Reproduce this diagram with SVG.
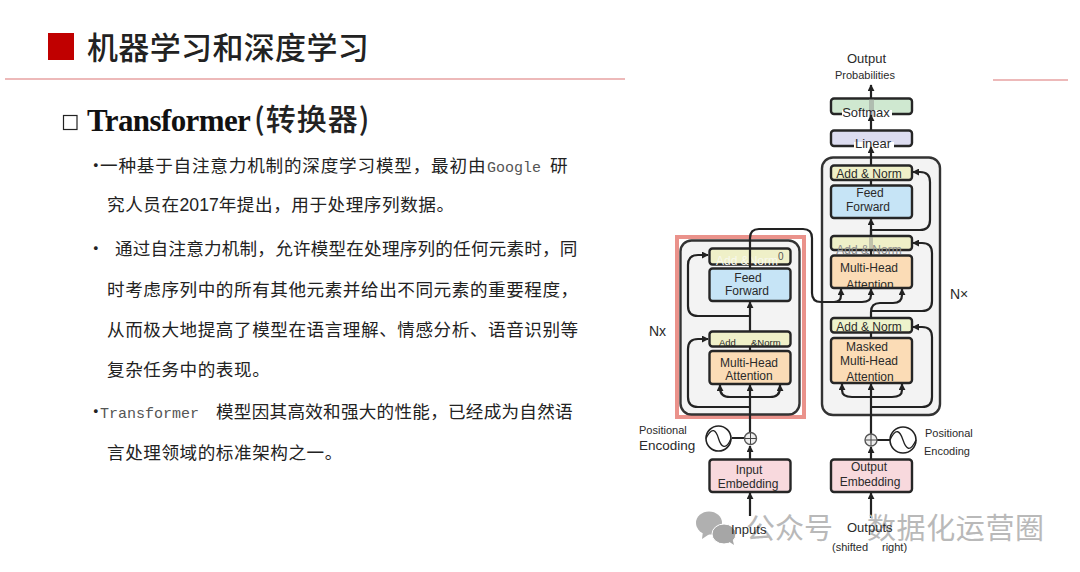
<svg xmlns="http://www.w3.org/2000/svg" width="1080" height="572" viewBox="0 0 1080 572">
<style>
.cjk{font-family:"Noto Sans CJK SC","Liberation Sans",sans-serif}
.body{font-family:"Noto Sans CJK SC","Liberation Sans",sans-serif;font-size:17.6px;fill:#222;letter-spacing:.55px}
.mono{font-family:"Liberation Mono","Noto Sans CJK SC",monospace;font-size:15px;fill:#555;letter-spacing:0}
.l{font-family:"Liberation Sans",Arial,sans-serif;font-size:12px;fill:#2a2a2a}
.m{text-anchor:middle}
.box{stroke:#262626;stroke-width:2.4}
.an{fill:#eff0c8}.ff{fill:#c6e4f6}.mh{fill:#fbdcb6}.em{fill:#f8d9dd}
.cont{fill:#f3f3f3;stroke:#333;stroke-width:2.4}
.c{fill:none;stroke:#222;stroke-width:2.2}
.a{marker-end:url(#arrow)}
.band{fill:#8a8a8a;opacity:.45}
.rule{stroke:#dc7474;stroke-width:1.2}
</style>
<defs>
<marker id="arrow" viewBox="0 0 8 8" refX="7" refY="4" markerWidth="7" markerHeight="7" markerUnits="userSpaceOnUse" orient="auto"><path d="M0 0L8 4L0 8Z" fill="#222"/></marker>
</defs>
<rect width="1080" height="572" fill="#fff"/>

<g id="header">
<rect x="48" y="33" width="26" height="27" fill="#c00000"/>
<text class="cjk" x="87" y="59" font-size="31" font-weight="500" fill="#222" letter-spacing=".35">机器学习和深度学习</text>
<path d="M5 79H625" class="rule"/>
<path d="M993 80H1068" class="rule"/>
</g>

<g id="content">
<rect x="63.500" y="115.500" width="13.500" height="14" fill="none" stroke="#222" stroke-width="1.200"/>
<text x="87" y="131" font-family="Liberation Serif,serif" font-weight="700" font-size="31" letter-spacing="-.6" fill="#111">Transformer</text>
<text class="cjk" x="254" y="130" font-size="30" font-weight="500" fill="#222" letter-spacing="1">(转换器)</text>
<text class="body" x="87" y="172"><tspan x="87">·</tspan><tspan x="100" letter-spacing=".8">一种基于自注意力机制的深度学习模型&#xFF0C;最初由</tspan><tspan class="mono" x="487">Google</tspan><tspan x="550">研</tspan></text>
<text class="body" x="107" y="211">究人员在<tspan font-family="Liberation Sans" letter-spacing="0">2017</tspan>年提出&#xFF0C;用于处理序列数据。</text>
<text class="body" x="87" y="255">·<tspan x="115" letter-spacing=".2">通过自注意力机制&#xFF0C;允许模型在处理序列的任何元素时&#xFF0C;同</tspan></text>
<text class="body" x="107" y="296">时考虑序列中的所有其他元素并给出不同元素的重要程度&#xFF0C;</text>
<text class="body" x="107" y="336">从而极大地提高了模型在语言理解、情感分析、语音识别等</text>
<text class="body" x="107" y="376">复杂任务中的表现。</text>
<text class="body" x="87" y="418">·<tspan class="mono" x="100">Transformer</tspan><tspan x="216" letter-spacing=".25">模型因其高效和强大的性能&#xFF0C;已经成为自然语</tspan></text>
<text class="body" x="107" y="459">言处理领域的标准架构之一。</text>
</g>

<g id="containers">
<rect x="677" y="237" width="127" height="180" fill="none" stroke="#ea928b" stroke-width="4"/>
<rect x="680.500" y="240.500" width="119" height="174" rx="11" class="cont"/>
<rect x="822" y="157.500" width="118" height="257.500" rx="11" class="cont"/>
</g>

<g id="enc-addnorm2"><rect x="709.500" y="248.500" width="81" height="16" rx="3" class="box an"/><text class="l" x="716" y="265" style="fill:#f8f8ee">Add &amp;Norm</text><text class="l" x="778" y="260" style="font-size:10px;fill:#555">0</text></g>
<g id="enc-ff"><rect x="709.500" y="268.500" width="81" height="32.500" rx="3" class="box ff"/><text class="l m" x="748" y="282">Feed</text><text class="l m" x="747" y="295">Forward</text></g>
<g id="enc-addnorm1"><rect x="709.500" y="331.500" width="81" height="15" rx="3" class="box an"/><text class="l" x="719" y="346" style="font-size:9.500px">Add</text><text class="l" x="751" y="346" style="font-size:9.500px">&amp;Norm</text></g>
<g id="enc-mha"><rect x="709.500" y="351" width="81" height="33" rx="3" class="box mh"/><text class="l m" x="749" y="367">Multi-Head</text><text class="l m" x="749" y="380">Attention</text></g>
<g id="input-emb"><rect x="709.500" y="459.500" width="81" height="32.500" rx="3" class="box em"/><text class="l m" x="749" y="474">Input</text><text class="l m" x="748" y="488">Embedding</text></g>

<g id="softmax"><rect x="831" y="98.500" width="81" height="15.500" rx="3" class="box" fill="#cfe8d0"/><rect x="869" y="99" width="5" height="15" class="band"/><rect x="842" y="110" width="50" height="7" fill="#fff"/><rect x="869" y="110" width="5" height="7" class="band"/><text class="l m" x="866" y="117" style="font-size:13px">Softmax</text></g>
<g id="linear"><rect x="831" y="130.500" width="81" height="15.500" rx="3" class="box" fill="#dcdcf0"/><rect x="854" y="142" width="40" height="7" fill="#fff"/><text class="l m" x="873" y="148" style="font-size:13px">Linear</text></g>
<g id="dec-addnorm3"><rect x="831" y="165.500" width="81" height="14.500" rx="3" class="box an"/><text class="l m" x="869" y="178">Add &amp; Norm</text></g>
<g id="dec-ff"><rect x="831" y="185.500" width="81" height="32.500" rx="3" class="box ff"/><text class="l m" x="870" y="197">Feed</text><text class="l m" x="868" y="211">Forward</text></g>
<g id="dec-addnorm2"><rect x="831" y="236" width="81" height="14" rx="3" class="box an"/><rect x="869" y="237" width="4" height="12" class="band"/><text class="l m" x="869" y="254" style="fill:#8c8c8c">Add &amp; Norm</text></g>
<g id="dec-mha"><rect x="831" y="255.500" width="81" height="32.500" rx="3" class="box mh"/><text class="l m" x="869" y="272">Multi-Head</text><text class="l m" x="870" y="289">Attention</text></g>
<g id="dec-addnorm1"><rect x="831" y="318" width="81" height="14.500" rx="3" class="box" fill="#eef3cc"/><text class="l m" x="869" y="331">Add &amp; Norm</text></g>
<g id="dec-masked"><rect x="831" y="338" width="81" height="45" rx="3" class="box mh"/><text class="l m" x="867" y="351">Masked</text><text class="l m" x="869" y="365">Multi-Head</text><text class="l m" x="870" y="381">Attention</text></g>
<g id="output-emb"><rect x="831" y="459.500" width="81" height="32.500" rx="3" class="box em"/><text class="l m" x="869" y="471">Output</text><text class="l m" x="870" y="486">Embedding</text></g>

<g id="connectors">
<path class="c a" d="M750 516V493"/>
<path class="c a" d="M750 459V446"/>
<path class="c a" d="M750 433V385"/>
<path class="c a" d="M750 397H730Q720 397 720 388V385"/>
<path class="c a" d="M750 397H770Q780 397 780 388V385"/>
<path class="c a" d="M750 407H698Q688 407 688 397V349Q688 339 698 339H708"/>
<path class="c a" d="M750 351V346M750 331V302"/>
<path class="c a" d="M750 316H698Q688 316 688 306V265Q688 255 698 255H708"/>
<path class="c" d="M750 268V264"/>
<path class="c" d="M750 264V238Q750 229 759 229H803Q812 229 812 238V293Q812 302 821 302H834Q841 302 841 295"/>
<path class="c a" d="M841 296V289"/>
<path class="c a" d="M830 302H862Q871 302 871 295V289"/>
<path class="c a" d="M871 318V312Q871 303 880 303H893Q902 303 902 295V289"/>
<path class="c a" d="M871 311H922Q932 311 932 301V253Q932 243 922 243H913"/>
<path class="c" d="M871 255V250M871 236V230"/>
<path class="c a" d="M871 236V219"/>
<path class="c a" d="M871 230H920Q930 230 930 220V182Q930 172 920 172H913"/>
<path class="c" d="M871 185V180"/>
<path class="c a" d="M871 165V147"/>
<path class="c a" d="M871 130V115"/>
<path class="c a" d="M871 98V85"/>
<path class="c" d="M871 338V332"/>
<path class="c a" d="M871 434V384"/>
<path class="c a" d="M871 397H852Q842 397 842 390V384"/>
<path class="c a" d="M871 397H892Q902 397 902 390V384"/>
<path class="c a" d="M871 407H922Q932 407 932 397V337Q932 327 922 327H913"/>
<path class="c a" d="M871 518V493"/>
<path class="c a" d="M871 459V447"/>
<path class="c" d="M732 438H744M877 440H890"/>
</g>

<g id="pe-left"><circle cx="750.500" cy="438.500" r="6" fill="#eee" stroke="#555" stroke-width="1.400"/><path d="M750.500 433V444M745 438.500H756" stroke="#444" stroke-width="1"/><circle cx="718.500" cy="438.500" r="12.500" fill="#fff" stroke="#222" stroke-width="1.600"/><path d="M706 438.500C712 426 716 430 718.500 438.500S726 451 731 438.500" fill="none" stroke="#222" stroke-width="1.300"/></g>
<g id="pe-right"><circle cx="871" cy="440" r="6" fill="#eee" stroke="#555" stroke-width="1.400"/><path d="M871 434.500V445.500M865.500 440H876.500" stroke="#444" stroke-width="1"/><circle cx="903" cy="440" r="13" fill="#fff" stroke="#222" stroke-width="1.600"/><path d="M890 440C896 427 900 431 903 440S910 453 916 440" fill="none" stroke="#222" stroke-width="1.300"/></g>

<g id="watermark">
<ellipse cx="709" cy="523" rx="13" ry="11.500" fill="#b0b0b0"/><path d="M703 531L702 539L711 533Z" fill="#b0b0b0"/>
<ellipse cx="724" cy="534" rx="12" ry="10" fill="#a6a6a6" stroke="#fff" stroke-width="1"/><path d="M728 541L734 545L732 537Z" fill="#a6a6a6"/>
<text class="cjk" x="746" y="539" font-size="29" fill="#b9b9b9" letter-spacing="0">公众号</text>
<text class="cjk" x="867" y="539" font-size="29" fill="#b9b9b9" letter-spacing=".6">数据化运营圈</text>
</g>

<g id="labels">
<text class="l" x="847" y="63" style="font-size:13px">Output</text>
<text class="l" x="835" y="79" style="font-size:11px">Probabilities</text>
<text class="l" x="649" y="336" style="font-size:14px">Nx</text>
<text class="l" x="950" y="299" style="font-size:14px">N×</text>
<text class="l" x="639" y="434" style="font-size:11px">Positional</text>
<text class="l" x="639" y="450" style="font-size:13.500px">Encoding</text>
<text class="l" x="925" y="437" style="font-size:11px">Positional</text>
<text class="l" x="924" y="455" style="font-size:11px">Encoding</text>
<text class="l" x="731" y="534" style="font-size:13px">Inputs</text>
<text class="l" x="847" y="532" style="font-size:13px">Outputs</text>
<text class="l" x="832" y="551" style="font-size:11px">(shifted</text>
<text class="l" x="882" y="551" style="font-size:11px">right)</text>
</g>
</svg>
